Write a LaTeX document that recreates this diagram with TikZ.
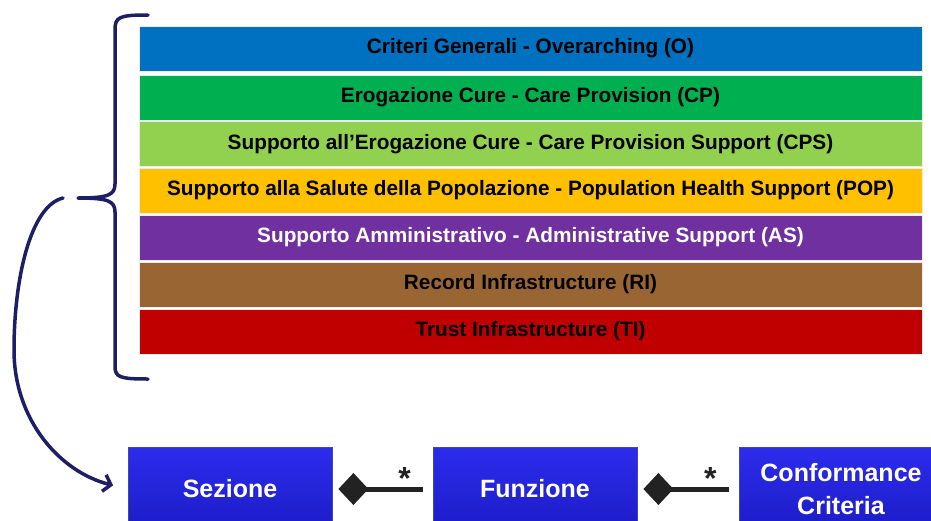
\documentclass[tikz,border=0pt]{standalone}
\usepackage{fontspec}
\setmainfont{Liberation Sans}
\usetikzlibrary{arrows.meta}
\definecolor{cO}{RGB}{0,112,192}
\definecolor{cCP}{RGB}{0,176,80}
\definecolor{cCPS}{RGB}{146,208,80}
\definecolor{cPOP}{RGB}{255,192,0}
\definecolor{cAS}{RGB}{112,48,160}
\definecolor{cRI}{RGB}{153,102,51}
\definecolor{cTI}{RGB}{192,0,0}
\definecolor{navy}{RGB}{30,30,100}
\definecolor{boxtop}{RGB}{44,44,236}
\definecolor{boxbot}{RGB}{28,28,200}
\definecolor{boxedge}{RGB}{70,70,170}
\definecolor{connfill}{RGB}{34,34,34}
\tikzset{
  bar/.style={draw=white!85!gray, line width=0.8pt, minimum width=783pt, minimum height=45pt,
    inner sep=0pt, font=\fontsize{20.8}{24}\selectfont\bfseries, text=black},
  bluebox/.style={draw=boxedge, line width=0.8pt, top color=boxtop, bottom color=boxbot,
    minimum height=84pt, inner sep=0pt, text=white, align=center,
    font=\fontsize{25}{30}\selectfont\bfseries},
  conn/.style={draw=black, line width=5pt, connfill},
  star/.style={font=\fontsize{32}{32}\selectfont\bfseries, anchor=base, inner sep=0pt},
  brace/.style={draw=navy, line width=3.5pt, line cap=round, line join=round},
}
\begin{document}
\begin{tikzpicture}[x=1pt,y=-1pt]
\useasboundingbox (0,0) rectangle (931,520);
\node[bar, fill=cO]   (o)   at (530.5,48.5)  {Criteri Generali - Overarching (O)};
\node[bar, fill=cCP]  (cp)  at (530.5,97.5)  {Erogazione Cure - Care Provision (CP)};
\node[bar, fill=cCPS] (cps) at (530.5,144)   {Supporto all’Erogazione Cure - Care Provision Support (CPS)};
\node[bar, fill=cPOP] (pop) at (530.5,190.5) {Supporto alla Salute della Popolazione - Population Health Support (POP)};
\node[bar, fill=cAS, text=white] (as) at (530.5,237.5) {Supporto Amministrativo - Administrative Support (AS)};
\node[bar, fill=cRI]  (ri)  at (530.5,284.5) {Record Infrastructure (RI)};
\node[bar, fill=cTI]  (ti)  at (530.5,331.5) {Trust Infrastructure (TI)};

\node[bluebox, minimum width=204pt] (sez) at (230,489) {Sezione};
\node[bluebox, minimum width=204pt] (fun) at (535,489) {Funzione};
\node[bluebox, minimum width=204pt] (cc)  at (841,489) {Conformance\\[3pt]Criteria};

% brace
\coordinate (btop) at (148,15);
\coordinate (bmid) at (78,198);
\coordinate (bbot) at (148,379);
\draw[brace] (btop) .. controls (119,15) and (115,17) .. (115,30) -- (115,184)
  .. controls (115,195) and (108,198) .. (bmid)
  .. controls (108,198) and (115,201) .. (115,212) -- (115,366)
  .. controls (115,377) and (119,379) .. (bbot);

% curved arrow
\coordinate (cstart) at (63,198);
\draw[brace, -{Straight Barb[length=7pt,width=17pt]}, shorten >=15pt]
  (cstart) .. controls (30,206) and (14,280) .. (14,350)
  .. controls (14,420) and (60,472) .. (sez.west);

% composition connectors
\draw[conn, {Diamond[length=30pt,width=32pt,line width=0pt,fill=connfill]}-, shorten <=6pt, shorten >=10pt]
  (sez.east) -- (fun.west) node[star, pos=0.72] {*};
\draw[conn, {Diamond[length=30pt,width=32pt,line width=0pt,fill=connfill]}-, shorten <=6pt, shorten >=10pt]
  (fun.east) -- (cc.west) node[star, pos=0.72] {*};
\end{tikzpicture}
\end{document}
